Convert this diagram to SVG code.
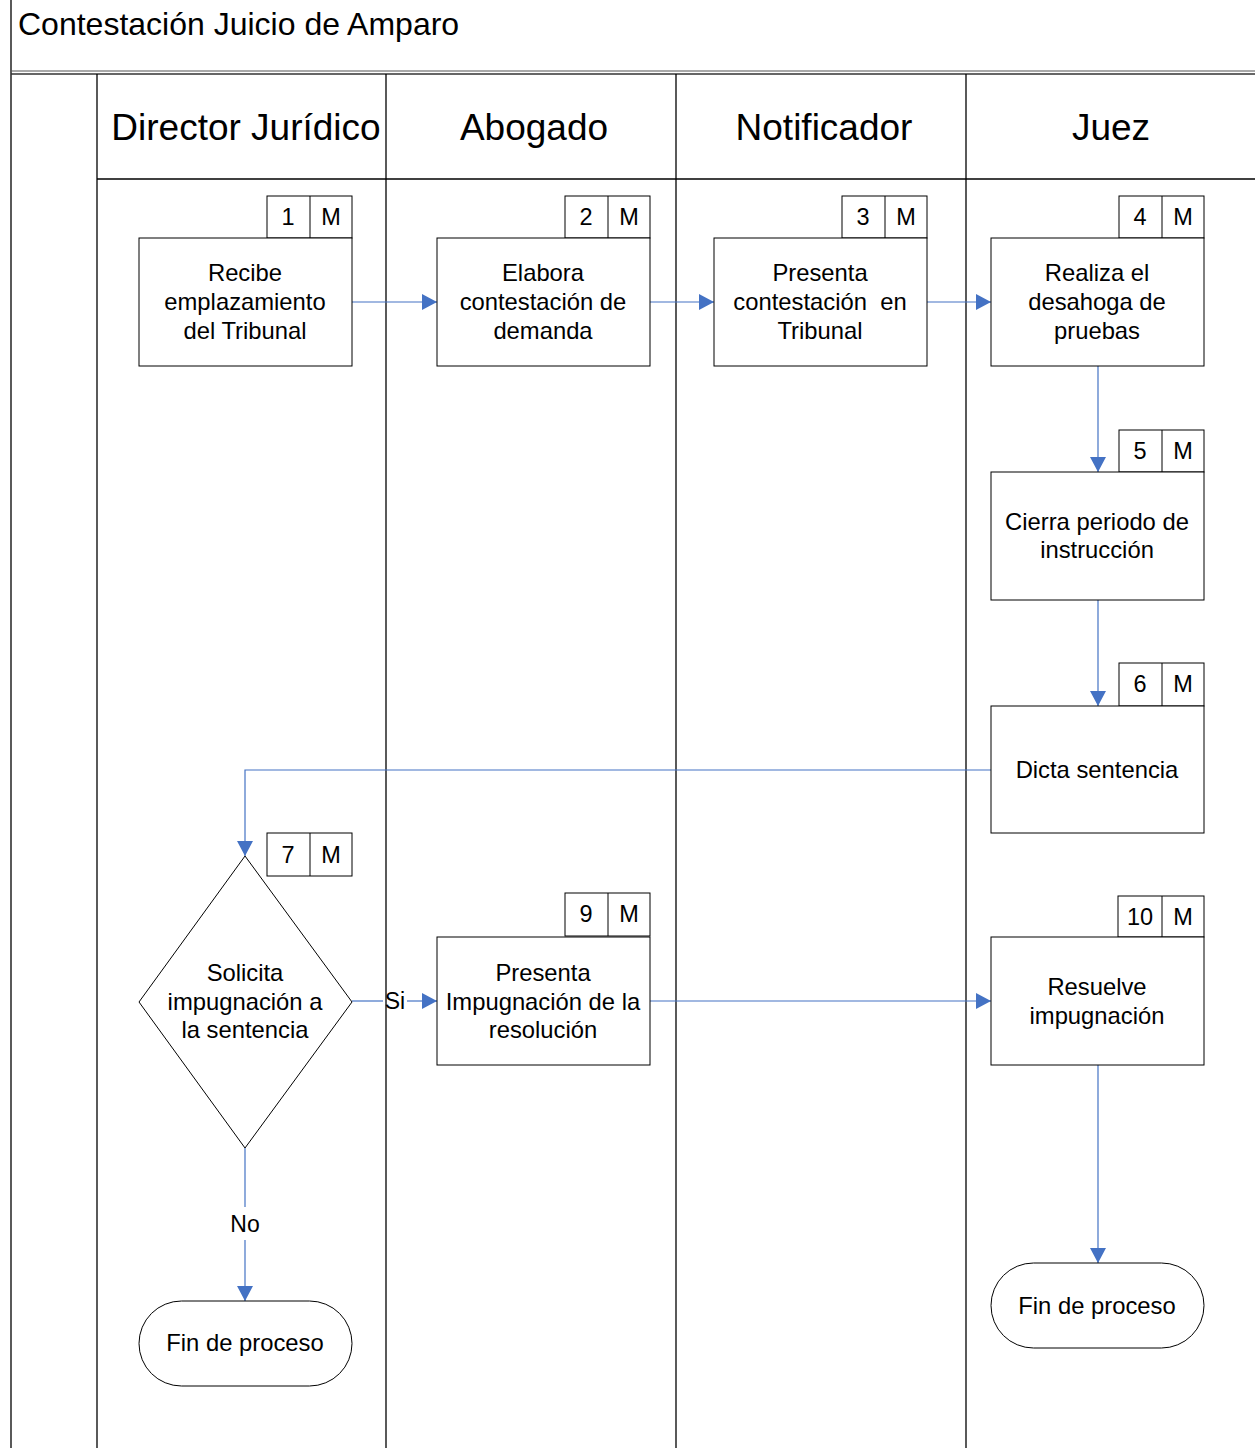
<svg xmlns="http://www.w3.org/2000/svg" width="1255" height="1448" viewBox="0 0 1255 1448">
  <style>
    .frame { fill: none; stroke: #000; stroke-width: 1.3; }
    .box { fill: #fff; stroke: #000; stroke-width: 1; }
    .txt { font-family: "Liberation Sans", Arial, sans-serif; font-size: 23.8px; fill: #000; text-anchor: middle; }
    .tag { font-family: "Liberation Sans", Arial, sans-serif; font-size: 23.5px; fill: #000; text-anchor: middle; }
    .lane { font-family: "Liberation Sans", Arial, sans-serif; font-size: 37px; fill: #000; text-anchor: middle; }
    .title { font-family: "Liberation Sans", Arial, sans-serif; font-size: 32px; fill: #000; }
    .conn { fill: none; stroke: #4472C4; stroke-width: 1.2; }
    .lbl { font-family: "Liberation Sans", Arial, sans-serif; font-size: 23px; fill: #000; text-anchor: middle; }
  </style>
  <defs>
    <marker id="arrow" markerWidth="16" markerHeight="16" refX="15" refY="8" orient="auto" markerUnits="userSpaceOnUse">
      <path d="M0,0 L15,8 L0,16 Z" fill="#4472C4"/>
    </marker>
  </defs>

  <rect width="1255" height="1448" fill="#fff"/>

  <!-- pool frame and title -->
  <g id="pool">
    <line class="frame" x1="11" y1="0" x2="11" y2="1448"/>
    <line x1="11" y1="71" x2="1255" y2="71" stroke="#555" stroke-width="1.2"/>
    <line x1="11" y1="74" x2="1255" y2="74" stroke="#333" stroke-width="1.4"/>
    <text class="title" x="18" y="35">Contestación Juicio de Amparo</text>
  </g>

  <!-- swimlanes -->
  <g id="lanes">
    <line class="frame" x1="97" y1="74" x2="97" y2="1448"/>
    <line class="frame" x1="386" y1="74" x2="386" y2="1448"/>
    <line class="frame" x1="676" y1="74" x2="676" y2="1448"/>
    <line class="frame" x1="966" y1="74" x2="966" y2="1448"/>
    <line class="frame" x1="97" y1="179" x2="1255" y2="179"/>
    <text class="lane" x="246" y="140">Director Jurídico</text>
    <text class="lane" x="534" y="140">Abogado</text>
    <text class="lane" x="824" y="140">Notificador</text>
    <text class="lane" x="1111" y="140">Juez</text>
  </g>

  <!-- connectors -->
  <g id="connectors">
    <line class="conn" x1="352" y1="302" x2="437" y2="302" marker-end="url(#arrow)"/>
    <line class="conn" x1="650" y1="302" x2="714" y2="302" marker-end="url(#arrow)"/>
    <line class="conn" x1="927" y1="302" x2="991" y2="302" marker-end="url(#arrow)"/>
    <line class="conn" x1="1098" y1="366" x2="1098" y2="472" marker-end="url(#arrow)"/>
    <line class="conn" x1="1098" y1="600" x2="1098" y2="706" marker-end="url(#arrow)"/>
    <polyline class="conn" points="991,770 245,770 245,856" marker-end="url(#arrow)"/>
    <line class="conn" x1="352" y1="1001" x2="383" y2="1001"/>
    <line class="conn" x1="407" y1="1001" x2="437" y2="1001" marker-end="url(#arrow)"/>
    <text class="lbl" x="395" y="1009">Si</text>
    <line class="conn" x1="650" y1="1001" x2="991" y2="1001" marker-end="url(#arrow)"/>
    <line class="conn" x1="245" y1="1148" x2="245" y2="1207"/>
    <line class="conn" x1="245" y1="1240" x2="245" y2="1301" marker-end="url(#arrow)"/>
    <text class="lbl" x="245" y="1232">No</text>
    <line class="conn" x1="1098" y1="1065" x2="1098" y2="1263" marker-end="url(#arrow)"/>
  </g>

  <!-- activities -->
  <g id="node1">
    <rect class="box" x="267" y="196" width="85" height="42"/>
    <line class="box" x1="310" y1="196" x2="310" y2="238"/>
    <text class="tag" x="288" y="225">1</text>
    <text class="tag" x="331" y="225">M</text>
    <rect class="box" x="139" y="238" width="213" height="128"/>
    <text class="txt" x="245" y="281">Recibe</text>
    <text class="txt" x="245" y="310">emplazamiento</text>
    <text class="txt" x="245" y="339">del Tribunal</text>
  </g>

  <g id="node2">
    <rect class="box" x="565" y="196" width="85" height="42"/>
    <line class="box" x1="608" y1="196" x2="608" y2="238"/>
    <text class="tag" x="586" y="225">2</text>
    <text class="tag" x="629" y="225">M</text>
    <rect class="box" x="437" y="238" width="213" height="128"/>
    <text class="txt" x="543" y="281">Elabora</text>
    <text class="txt" x="543" y="310">contestación de</text>
    <text class="txt" x="543" y="339">demanda</text>
  </g>

  <g id="node3">
    <rect class="box" x="842" y="196" width="85" height="42"/>
    <line class="box" x1="885" y1="196" x2="885" y2="238"/>
    <text class="tag" x="863" y="225">3</text>
    <text class="tag" x="906" y="225">M</text>
    <rect class="box" x="714" y="238" width="213" height="128"/>
    <text class="txt" x="820" y="281">Presenta</text>
    <text class="txt" x="820" y="310" xml:space="preserve">contestación  en</text>
    <text class="txt" x="820" y="339">Tribunal</text>
  </g>

  <g id="node4">
    <rect class="box" x="1119" y="196" width="85" height="42"/>
    <line class="box" x1="1162" y1="196" x2="1162" y2="238"/>
    <text class="tag" x="1140" y="225">4</text>
    <text class="tag" x="1183" y="225">M</text>
    <rect class="box" x="991" y="238" width="213" height="128"/>
    <text class="txt" x="1097" y="281">Realiza el</text>
    <text class="txt" x="1097" y="310">desahoga de</text>
    <text class="txt" x="1097" y="339">pruebas</text>
  </g>

  <g id="node5">
    <rect class="box" x="1119" y="430" width="85" height="42"/>
    <line class="box" x1="1162" y1="430" x2="1162" y2="472"/>
    <text class="tag" x="1140" y="459">5</text>
    <text class="tag" x="1183" y="459">M</text>
    <rect class="box" x="991" y="472" width="213" height="128"/>
    <text class="txt" x="1097" y="530">Cierra periodo de</text>
    <text class="txt" x="1097" y="558">instrucción</text>
  </g>

  <g id="node6">
    <rect class="box" x="1119" y="663" width="85" height="43"/>
    <line class="box" x1="1162" y1="663" x2="1162" y2="706"/>
    <text class="tag" x="1140" y="692">6</text>
    <text class="tag" x="1183" y="692">M</text>
    <rect class="box" x="991" y="706" width="213" height="127"/>
    <text class="txt" x="1097" y="778">Dicta sentencia</text>
  </g>

  <g id="node7">
    <rect class="box" x="267" y="833" width="85" height="43"/>
    <line class="box" x1="310" y1="833" x2="310" y2="876"/>
    <text class="tag" x="288" y="863">7</text>
    <text class="tag" x="331" y="863">M</text>
    <polygon class="box" points="245,856 352,1002 245,1148 139,1002"/>
    <text class="txt" x="245" y="981">Solicita</text>
    <text class="txt" x="245" y="1010">impugnación a</text>
    <text class="txt" x="245" y="1038">la sentencia</text>
  </g>

  <g id="node9">
    <rect class="box" x="565" y="893" width="85" height="43"/>
    <line class="box" x1="608" y1="893" x2="608" y2="936"/>
    <text class="tag" x="586" y="922">9</text>
    <text class="tag" x="629" y="922">M</text>
    <rect class="box" x="437" y="937" width="213" height="128"/>
    <text class="txt" x="543" y="981">Presenta</text>
    <text class="txt" x="543" y="1010">Impugnación de la</text>
    <text class="txt" x="543" y="1038">resolución</text>
  </g>

  <g id="node10">
    <rect class="box" x="1118" y="896" width="86" height="41"/>
    <line class="box" x1="1162" y1="896" x2="1162" y2="937"/>
    <text class="tag" x="1140" y="925">10</text>
    <text class="tag" x="1183" y="925">M</text>
    <rect class="box" x="991" y="937" width="213" height="128"/>
    <text class="txt" x="1097" y="995">Resuelve</text>
    <text class="txt" x="1097" y="1024">impugnación</text>
  </g>

  <g id="end-left">
    <rect class="box" x="139" y="1301" width="213" height="85" rx="42.5" ry="42.5"/>
    <text class="txt" x="245" y="1351">Fin de proceso</text>
  </g>

  <g id="end-right">
    <rect class="box" x="991" y="1263" width="213" height="85" rx="42.5" ry="42.5"/>
    <text class="txt" x="1097" y="1314">Fin de proceso</text>
  </g>
</svg>
